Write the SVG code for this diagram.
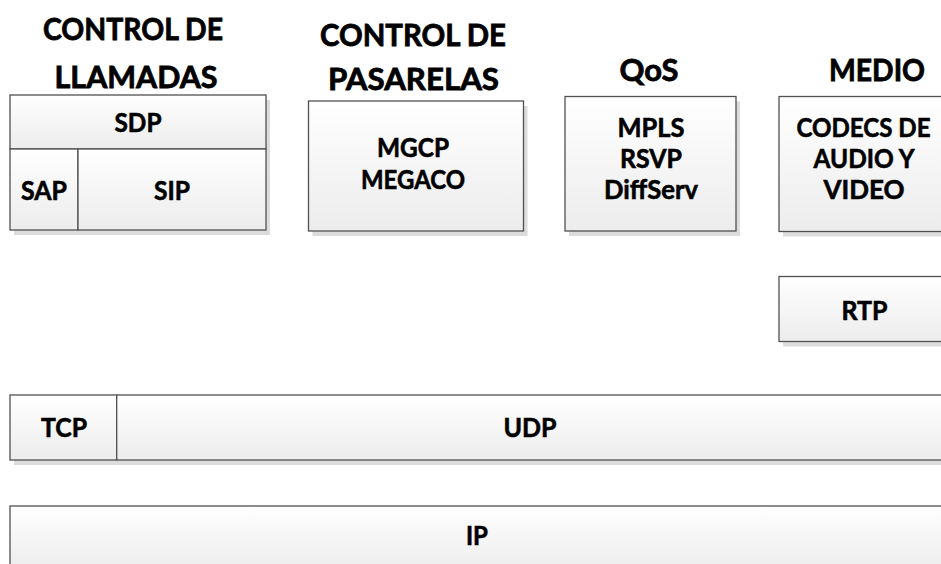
<svg xmlns="http://www.w3.org/2000/svg" width="941" height="564" viewBox="0 0 941 564">
  <defs>
    <linearGradient id="fillGrad" x1="0" y1="0" x2="0" y2="1">
      <stop offset="0" stop-color="#ffffff"/>
      <stop offset="1" stop-color="#ececec"/>
    </linearGradient>
    <style>
      .box { fill: url(#fillGrad); stroke: #505050; stroke-width: 1.3; }
      .shadow { fill: #dcdcdc; stroke: none; }
      .head { font-family: Lato, "Liberation Sans", sans-serif; font-weight: bold; font-size: 31px; fill: #000; stroke: #000; stroke-width: 0.8; text-anchor: middle; }
      .lbl { font-family: Lato, "Liberation Sans", sans-serif; font-weight: bold; font-size: 26.5px; fill: #000; stroke: #000; stroke-width: 0.6; text-anchor: middle; }
    </style>
  </defs>
  <rect width="941" height="564" fill="#ffffff"/>

  <g id="headings">
    <text class="head" x="133" y="39.5" textLength="180" lengthAdjust="spacingAndGlyphs">CONTROL DE</text>
    <text class="head" x="136" y="87.5" textLength="163" lengthAdjust="spacingAndGlyphs">LLAMADAS</text>
    <text class="head" x="413" y="46" textLength="186" lengthAdjust="spacingAndGlyphs">CONTROL DE</text>
    <text class="head" x="413.5" y="90" textLength="171" lengthAdjust="spacingAndGlyphs">PASARELAS</text>
    <text class="head" x="649" y="81" textLength="59" lengthAdjust="spacingAndGlyphs">QoS</text>
    <text class="head" x="877" y="81" textLength="96" lengthAdjust="spacingAndGlyphs">MEDIO</text>
  </g>

  <g id="sdp-sap-sip">
    <rect class="shadow" x="14" y="100" width="256" height="135"/>
    <rect class="box" x="10" y="95" width="256" height="54"/>
    <rect class="box" x="10" y="149" width="68" height="81"/>
    <rect class="box" x="78" y="149" width="188" height="81"/>
    <text class="lbl" x="138" y="131.5" textLength="47" lengthAdjust="spacingAndGlyphs">SDP</text>
    <text class="lbl" x="44" y="200" textLength="46" lengthAdjust="spacingAndGlyphs">SAP</text>
    <text class="lbl" x="172" y="200" textLength="36" lengthAdjust="spacingAndGlyphs">SIP</text>
  </g>

  <g id="mgcp">
    <rect class="shadow" x="312.5" y="106" width="215" height="130"/>
    <rect class="box" x="308.5" y="101" width="215" height="130"/>
    <text class="lbl" x="413" y="157" textLength="72" lengthAdjust="spacingAndGlyphs">MGCP</text>
    <text class="lbl" x="413" y="189" textLength="104" lengthAdjust="spacingAndGlyphs">MEGACO</text>
  </g>

  <g id="qos">
    <rect class="shadow" x="569" y="101.5" width="171" height="134.5"/>
    <rect class="box" x="565" y="96.5" width="171" height="134.5"/>
    <text class="lbl" x="651" y="137" textLength="67" lengthAdjust="spacingAndGlyphs">MPLS</text>
    <text class="lbl" x="651" y="168" textLength="62" lengthAdjust="spacingAndGlyphs">RSVP</text>
    <text class="lbl" x="651" y="199" textLength="94" lengthAdjust="spacingAndGlyphs">DiffServ</text>
  </g>

  <g id="medio">
    <rect class="shadow" x="783" y="101.5" width="171" height="135"/>
    <rect class="box" x="779" y="96.5" width="171" height="135"/>
    <text class="lbl" x="863.5" y="137" textLength="134" lengthAdjust="spacingAndGlyphs">CODECS DE</text>
    <text class="lbl" x="864" y="168" textLength="101" lengthAdjust="spacingAndGlyphs">AUDIO Y</text>
    <text class="lbl" x="864" y="199" textLength="81" lengthAdjust="spacingAndGlyphs">VIDEO</text>
  </g>

  <g id="rtp">
    <rect class="shadow" x="783" y="281.5" width="171" height="65"/>
    <rect class="box" x="779" y="276.5" width="171" height="65"/>
    <text class="lbl" x="864.5" y="320" textLength="46" lengthAdjust="spacingAndGlyphs">RTP</text>
  </g>

  <g id="tcp-udp">
    <rect class="shadow" x="14" y="400" width="940" height="65"/>
    <rect class="box" x="10" y="395" width="106.7" height="65"/>
    <rect class="box" x="116.7" y="395" width="827" height="65"/>
    <text class="lbl" x="64" y="437" textLength="46" lengthAdjust="spacingAndGlyphs">TCP</text>
    <text class="lbl" x="530" y="437" textLength="53" lengthAdjust="spacingAndGlyphs">UDP</text>
  </g>

  <g id="ip">
    <rect class="shadow" x="14" y="511" width="940" height="65"/>
    <rect class="box" x="10" y="506" width="934" height="65"/>
    <text class="lbl" x="477" y="545" textLength="22" lengthAdjust="spacingAndGlyphs">IP</text>
  </g>

  <g id="connectors"></g>
</svg>
